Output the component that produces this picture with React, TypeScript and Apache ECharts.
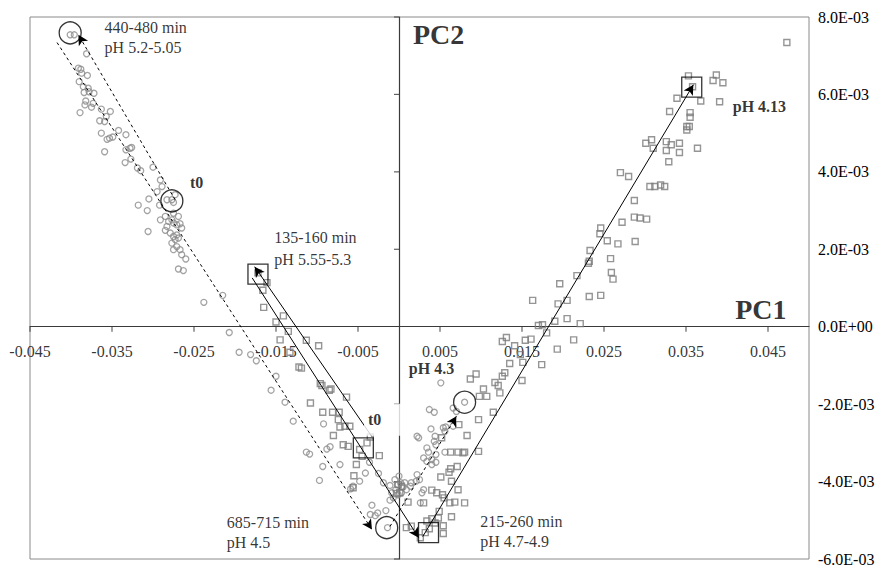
import React, { useEffect, useRef } from "react";
import * as echarts from "echarts";

// ---- axis ticks ----
const xTicks = [-0.045, -0.035, -0.025, -0.015, -0.005, 0.005, 0.015, 0.025, 0.035, 0.045];
const yTicks = [-0.006, -0.004, -0.002, 0.002, 0.004, 0.006, 0.008];
const xMin = -0.045;
const xMax = 0.05;
const yMin = -0.006;
const yMax = 0.008;
const yStep = 0.002;

// ---- series 1 : circles (PC1, PC2 scores) ----
const circlePoints: number[][] = [
  [-40.1e-3, 7.54e-3], [-39.6e-3, 7.54e-3], [-38.1e-3, 7.05e-3], [-39.1e-3, 6.68e-3], [-38.8e-3, 6.65e-3],
  [-38.7e-3, 6.55e-3], [-38.0e-3, 6.49e-3], [-39.0e-3, 6.33e-3], [-38.5e-3, 6.2e-3], [-38.4e-3, 6.05e-3],
  [-37.9e-3, 6.16e-3], [-37.8e-3, 6.07e-3], [-37.2e-3, 6.03e-3], [-38.2e-3, 5.83e-3], [-38.3e-3, 5.73e-3],
  [-37.5e-3, 5.67e-3], [-37.3e-3, 5.77e-3], [-38.9e-3, 5.53e-3], [-36.3e-3, 5.62e-3], [-35.7e-3, 5.43e-3],
  [-35.2e-3, 5.56e-3], [-36.5e-3, 5.32e-3], [-35.9e-3, 5.3e-3], [-36.3e-3, 5.0e-3], [-35.6e-3, 4.84e-3],
  [-35.3e-3, 4.87e-3], [-34.9e-3, 4.9e-3], [-34.2e-3, 5.07e-3], [-33.3e-3, 4.96e-3], [-35.9e-3, 4.52e-3],
  [-33.3e-3, 4.57e-3], [-32.8e-3, 4.61e-3], [-32.6e-3, 4.63e-3], [-33.4e-3, 4.24e-3], [-32.7e-3, 4.33e-3],
  [-31.9e-3, 4.1e-3], [-31.5e-3, 4.03e-3], [-30.0e-3, 4.12e-3], [-29.1e-3, 3.79e-3], [-28.9e-3, 3.62e-3],
  [-29.5e-3, 3.49e-3], [-30.5e-3, 3.3e-3], [-31.8e-3, 3.14e-3], [-30.7e-3, 3.0e-3], [-29.2e-3, 3.14e-3],
  [-28.3e-3, 3.28e-3], [-27.7e-3, 3.28e-3], [-27.5e-3, 3.21e-3], [-27.3e-3, 3.41e-3], [-29.1e-3, 2.76e-3],
  [-28.5e-3, 2.85e-3], [-28.1e-3, 2.72e-3], [-27.7e-3, 2.76e-3], [-27.5e-3, 2.93e-3], [-26.9e-3, 2.85e-3],
  [-28.3e-3, 2.59e-3], [-28.5e-3, 2.49e-3], [-27.5e-3, 2.68e-3], [-27.1e-3, 2.63e-3], [-26.7e-3, 2.66e-3],
  [-26.5e-3, 2.55e-3], [-27.9e-3, 2.42e-3], [-27.5e-3, 2.33e-3], [-27.1e-3, 2.37e-3], [-26.9e-3, 2.29e-3],
  [-27.3e-3, 2.25e-3], [-27.7e-3, 2.16e-3], [-27.1e-3, 2.07e-3], [-26.7e-3, 1.99e-3], [-27.5e-3, 1.99e-3],
  [-26.5e-3, 1.86e-3], [-26.0e-3, 1.75e-3], [-26.9e-3, 1.49e-3], [-26.3e-3, 1.45e-3], [-30.6e-3, 2.46e-3],
  [-21.5e-3, 0.81e-3], [-23.8e-3, 0.63e-3], [-20.7e-3, -0.15e-3], [-19.5e-3, -0.66e-3], [-18.1e-3, -0.72e-3],
  [-17.4e-3, -0.88e-3], [-15.0e-3, -1.28e-3], [-15.6e-3, -1.64e-3], [-13.9e-3, -1.95e-3], [-12.9e-3, -2.44e-3],
  [-11.3e-3, -3.24e-3], [-10.9e-3, -3.29e-3], [-9.3e-3, -3.61e-3], [-9.7e-3, -3.97e-3], [-9.2e-3, -2.51e-3],
  [-8.8e-3, -3.16e-3], [-8.4e-3, -3.1e-3], [-7.2e-3, -3.56e-3], [-5.6e-3, -4.12e-3], [-5.9e-3, -4.19e-3],
  [-4.8e-3, -3.99e-3], [-4.1e-3, -3.78e-3], [-3.6e-3, -3.5e-3], [-2.5e-3, -3.79e-3], [-1.9e-3, -4.03e-3],
  [-1.1e-3, -4.1e-3], [-0.9e-3, -4.29e-3], [-1.6e-3, -4.75e-3], [-3.3e-3, -4.61e-3], [-3.5e-3, -4.85e-3],
  [-2.9e-3, -4.88e-3], [-2.6e-3, -4.81e-3], [-1.4e-3, -5.19e-3], [0.0, -3.86e-3], [-0.5e-3, -3.95e-3],
  [-0.2e-3, -4.08e-3], [0.2e-3, -4.03e-3], [0.5e-3, -4.14e-3], [0.7e-3, -4.03e-3], [0.3e-3, -4.29e-3],
  [-0.1e-3, -4.34e-3], [-0.7e-3, -4.42e-3], [-1.1e-3, -4.48e-3], [-0.4e-3, -4.21e-3], [0.9e-3, -4.21e-3],
  [1.4e-3, -4.12e-3], [1.5e-3, -4.03e-3], [2.2e-3, -3.82e-3], [2.5e-3, -3.95e-3], [2.8e-3, -4.29e-3],
  [3.0e-3, -4.21e-3], [2.2e-3, -2.83e-3], [2.4e-3, -2.87e-3], [3.4e-3, -3.13e-3], [3.6e-3, -3.24e-3],
  [3.0e-3, -3.39e-3], [3.4e-3, -3.48e-3], [4.0e-3, -3.56e-3], [3.7e-3, -2.14e-3], [4.3e-3, -2.21e-3],
  [3.9e-3, -2.64e-3], [4.4e-3, -2.83e-3], [4.3e-3, -2.96e-3], [4.5e-3, -3.05e-3], [5.4e-3, -2.61e-3],
  [5.7e-3, -2.59e-3], [5.6e-3, -2.7e-3], [6.6e-3, -2.1e-3], [7.0e-3, -2.19e-3], [5.1e-3, -1.45e-3],
  [8.0e-3, -1.95e-3], [4.0e-3, -3.43e-3], [4.5e-3, -3.5e-3], [4.5e-3, -3.3e-3], [5.6e-3, -3.24e-3],
  [6.6e-3, -2.57e-3], [2.1e-3, -3.99e-3], [2.6e-3, -4.55e-3],
];

// ---- series 2 : squares ----
const squarePoints: number[][] = [
  [35.3e-3, 6.48e-3], [35.8e-3, 6.2e-3], [33.9e-3, 5.9e-3], [36.8e-3, 5.83e-3], [38.3e-3, 6.36e-3],
  [38.7e-3, 6.5e-3], [39.5e-3, 6.3e-3], [39.1e-3, 5.81e-3], [33.0e-3, 5.56e-3], [35.5e-3, 5.53e-3],
  [35.5e-3, 5.41e-3], [35.1e-3, 5.17e-3], [35.4e-3, 5.17e-3], [35.1e-3, 5.08e-3], [36.4e-3, 4.61e-3],
  [30.1e-3, 4.74e-3], [30.8e-3, 4.83e-3], [31.0e-3, 4.61e-3], [32.6e-3, 4.78e-3], [33.2e-3, 4.7e-3],
  [32.6e-3, 4.55e-3], [34.2e-3, 4.74e-3], [34.2e-3, 4.5e-3], [32.9e-3, 4.26e-3], [27.0e-3, 3.98e-3],
  [28.0e-3, 3.88e-3], [30.6e-3, 3.62e-3], [31.2e-3, 3.62e-3], [31.9e-3, 3.66e-3], [32.4e-3, 3.62e-3],
  [28.7e-3, 3.26e-3], [27.2e-3, 2.7e-3], [28.7e-3, 2.83e-3], [29.4e-3, 2.81e-3], [30.2e-3, 2.78e-3],
  [24.6e-3, 2.55e-3], [24.5e-3, 2.4e-3], [25.4e-3, 2.22e-3], [26.7e-3, 2.14e-3], [28.8e-3, 2.2e-3],
  [23.3e-3, 1.97e-3], [23.2e-3, 1.69e-3], [23.1e-3, 1.64e-3], [25.8e-3, 1.76e-3], [21.7e-3, 1.32e-3],
  [25.9e-3, 1.4e-3], [26.1e-3, 1.23e-3], [19.6e-3, 1.11e-3], [16.3e-3, 0.68e-3], [19.4e-3, 0.59e-3],
  [20.5e-3, 0.68e-3], [23.2e-3, 0.78e-3], [24.6e-3, 0.81e-3], [19.0e-3, 0.14e-3], [20.5e-3, 0.21e-3],
  [22.1e-3, 0.08e-3], [17.0e-3, 0.03e-3], [17.5e-3, 0.05e-3], [18.0e-3, -0.16e-3], [47.3e-3, 7.34e-3],
  [21.3e-3, -0.34e-3], [12.6e-3, -0.38e-3], [13.1e-3, -0.28e-3], [14.1e-3, -0.49e-3], [15.4e-3, -0.35e-3],
  [16.1e-3, -0.32e-3], [14.8e-3, -0.72e-3], [15.1e-3, -0.92e-3], [13.5e-3, -0.95e-3], [17.4e-3, -0.98e-3],
  [19.3e-3, -0.58e-3], [8.7e-3, -1.35e-3], [9.4e-3, -1.22e-3], [12.6e-3, -1.28e-3], [12.9e-3, -1.19e-3],
  [-17.2e-3, 1.39e-3], [-16.1e-3, 1.14e-3], [-16.6e-3, 0.94e-3], [-16.5e-3, 0.5e-3], [-14.1e-3, 0.28e-3],
  [-15.0e-3, 0.12e-3], [-13.5e-3, -0.12e-3], [-14.5e-3, -0.34e-3], [-13.3e-3, -0.66e-3], [-12.2e-3, -1.04e-3],
  [-11.3e-3, -0.35e-3], [-9.8e-3, -0.49e-3], [-11.9e-3, -1.07e-3], [-9.6e-3, -1.47e-3], [-9.4e-3, -1.52e-3],
  [-8.5e-3, -1.64e-3], [-8.3e-3, -1.61e-3], [-6.4e-3, -1.82e-3], [-10.8e-3, -1.97e-3], [-9.3e-3, -2.21e-3],
  [-8.1e-3, -2.21e-3], [-7.3e-3, -2.21e-3], [-7.4e-3, -2.4e-3], [-7.2e-3, -2.59e-3], [-6.6e-3, -2.57e-3],
  [-6.0e-3, -2.57e-3], [-8.0e-3, -2.81e-3], [-6.8e-3, -3.05e-3], [-6.2e-3, -3.09e-3], [-3.9e-3, -3.0e-3],
  [-3.5e-3, -2.85e-3], [-4.5e-3, -3.35e-3], [-4.8e-3, -3.17e-3], [-2.4e-3, -3.33e-3], [-5.2e-3, -3.56e-3],
  [-5.5e-3, -3.85e-3], [-5.6e-3, -4.16e-3], [-0.1e-3, -4.08e-3], [0.3e-3, -4.12e-3], [0.1e-3, -4.29e-3],
  [-0.3e-3, -4.31e-3], [1.1e-3, -4.53e-3], [3.0e-3, -4.55e-3], [4.0e-3, -4.22e-3], [4.6e-3, -4.29e-3],
  [5.3e-3, -4.34e-3], [5.5e-3, -4.42e-3], [6.2e-3, -4.55e-3], [6.8e-3, -4.53e-3], [8.0e-3, -4.55e-3],
  [7.2e-3, -4.21e-3], [5.1e-3, -3.88e-3], [6.1e-3, -3.76e-3], [6.3e-3, -3.67e-3], [7.1e-3, -3.61e-3],
  [6.4e-3, -3.99e-3], [5.2e-3, -2.87e-3], [6.3e-3, -3.24e-3], [7.2e-3, -3.24e-3], [7.8e-3, -3.26e-3],
  [8.0e-3, -3.24e-3], [8.3e-3, -2.81e-3], [9.7e-3, -3.22e-3], [7.3e-3, -2.53e-3], [9.7e-3, -2.4e-3],
  [11.5e-3, -2.21e-3], [9.8e-3, -1.8e-3], [10.7e-3, -1.8e-3], [10.3e-3, -1.61e-3], [11.7e-3, -1.44e-3],
  [12.1e-3, -1.52e-3], [12.3e-3, -1.71e-3], [15.0e-3, -1.39e-3], [0.9e-3, -5.19e-3], [1.5e-3, -5.15e-3],
  [3.2e-3, -5.32e-3], [3.7e-3, -5.22e-3], [3.4e-3, -5.02e-3], [4.0e-3, -4.96e-3], [4.8e-3, -4.94e-3],
  [5.4e-3, -5.14e-3], [5.4e-3, -5.34e-3], [6.4e-3, -4.91e-3], [4.9e-3, -4.77e-3], [4.4e-3, -5.07e-3],
  [2.6e-3, -5.45e-3],
];

// ---- highlighted states (big open markers) ----
const markerCircles: number[][] = [
  [-40.1e-3, 7.59e-3], [-27.7e-3, 3.25e-3], [-1.5e-3, -5.19e-3], [8.0e-3, -1.95e-3],
];
const markerSquares: number[][] = [
  [-17.2e-3, 1.36e-3], [-4.35e-3, -3.13e-3], [3.6e-3, -5.32e-3], [35.7e-3, 6.19e-3],
];

// ---- trajectory arrows ----
const arrowFrom: number[][] = [
  [-41.7e-3, 7.34e-3], [-27.3e-3, 3.28e-3], [-1.1e-3, -5.16e-3],
  [-3.3e-3, -2.84e-3], [-17.9e-3, 1.26e-3], [2.9e-3, -5.42e-3],
];
const arrowTo: number[][] = [
  [-3.3e-3, -5.24e-3], [-39.1e-3, 7.54e-3], [7.0e-3, -2.31e-3],
  [-17.6e-3, 1.55e-3], [2.4e-3, -5.45e-3], [35.9e-3, 6.25e-3],
];
const arrowDashed = [true, true, true, false, false, false];

// ---- annotation texts ----
const noteTexts = [
  "440-480 min", "pH 5.2-5.05", "t0", "135-160 min", "pH 5.55-5.3", "PC2", "PC1",
  "pH 4.13", "pH 4.3", "t0", "685-715 min", "pH 4.5", "215-260 min", "pH 4.7-4.9",
];
const noteAt: number[][] = [
  [-35.9e-3, 7.74e-3], [-35.9e-3, 7.2e-3], [-25.5e-3, 3.72e-3], [-15.2e-3, 2.3e-3], [-15.2e-3, 1.73e-3],
  [1.7e-3, 7.54e-3], [41.0e-3, 0.44e-3], [40.7e-3, 5.68e-3], [1.2e-3, -1.09e-3], [-4.27e-3, -2.4e-3],
  [-21.0e-3, -5.06e-3], [-21.0e-3, -5.57e-3], [9.9e-3, -5.03e-3], [9.9e-3, -5.55e-3],
];
const noteBold = [false, false, true, false, false, true, true, true, true, true, false, false, false, false];
const noteSize = [16, 16, 16, 16, 16, 28, 28, 16, 16, 16, 16, 16, 16, 16];

const FONT = "Liberation Serif, Times New Roman, serif";

function sci(v: number): string {
  if (Math.abs(v) < 1e-12) return "0.0E+00";
  const e = Math.floor(Math.log10(Math.abs(v)) + 1e-9);
  const m = v / Math.pow(10, e);
  return m.toFixed(1) + "E" + (e < 0 ? "-" : "+") + String(Math.abs(e)).padStart(2, "0");
}

export default function App() {
  const ref = useRef<HTMLDivElement>(null);

  useEffect(() => {
    if (!ref.current) return;
    const chart = echarts.init(ref.current, null, { renderer: "svg" });

    const axisColor = "#3a3a3a";

    const arrowLines = arrowFrom.map((f, i) => [
      {
        coord: f,
        symbol: "none",
        lineStyle: {
          color: "#000",
          width: 1,
          type: arrowDashed[i] ? [3, 3] : "solid",
        },
      },
      { coord: arrowTo[i], symbol: "arrow" },
    ]);

    const textData = noteTexts.map((t, i) => {
      const item: any = {
        name: t,
        value: noteAt[i],
        label: {
          fontWeight: noteBold[i] ? "bold" : "normal",
          fontSize: noteSize[i],
          lineHeight: noteSize[i] === 16 ? 14 : 30,
        },
      };
      if (i === 9) {
        item.label.backgroundColor = "#ffffff";
        item.label.padding = [9, 21, 9, 4];
      }
      return item;
    });

    const option: any = {
      animation: false,
      backgroundColor: "#ffffff",
      textStyle: { fontFamily: FONT },
      grid: {
        left: 30,
        right: 71,
        top: 17,
        bottom: 7,
        show: true,
        borderColor: "#8a8a8a",
        borderWidth: 1,
        containLabel: false,
        outerBoundsMode: "none",
      },
      xAxis: {
        type: "value",
        min: xMin,
        max: xMax,
        axisLine: { show: true, onZero: true, lineStyle: { color: axisColor, width: 1.2 } },
        axisTick: { show: false },
        axisLabel: { show: false },
        splitLine: { show: false },
      },
      yAxis: [
        {
          type: "value",
          min: yMin,
          max: yMax,
          interval: yStep,
          position: "left",
          axisLine: { show: true, onZero: true, lineStyle: { color: axisColor, width: 1.2 } },
          axisTick: { show: false },
          axisLabel: { show: false },
          splitLine: { show: false },
        },
        {
          type: "value",
          min: yMin,
          max: yMax,
          interval: yStep,
          position: "right",
          axisLine: { show: false, onZero: false },
          axisTick: { show: false },
          axisLabel: { formatter: sci, fontSize: 16, color: "#000", margin: 9, fontFamily: FONT },
          splitLine: { show: false },
        },
      ],
      series: [
        {
          type: "scatter",
          name: "xTickLabels",
          data: xTicks.map((v) => [v, 0]),
          symbolSize: 0,
          itemStyle: { color: "rgba(0,0,0,0)" },
          silent: true,
          z: 1,
          label: {
            show: true,
            position: "bottom",
            distance: 18,
            lineHeight: 13,
            formatter: (p: any) => p.value[0].toFixed(3),
            color: "#000",
            fontFamily: FONT,
            fontSize: 16,
          },
        },
        {
          type: "scatter",
          name: "xTickMarks",
          data: xTicks.map((v) => [v, 0]),
          symbol: "rect",
          symbolSize: [1.2, 5],
          symbolOffset: [0, 2.5],
          itemStyle: { color: axisColor },
          silent: true,
          z: 1,
        },
        {
          type: "scatter",
          name: "yTickMarks",
          data: yTicks.map((v) => [0, v]),
          symbol: "rect",
          symbolSize: [5, 1.2],
          symbolOffset: [-2.5, 0],
          itemStyle: { color: axisColor },
          silent: true,
          z: 1,
        },
        {
          type: "scatter",
          name: "circles",
          data: circlePoints,
          symbol: "circle",
          symbolSize: 6,
          itemStyle: { color: "rgba(0,0,0,0)", borderColor: "#8c8c8c", borderWidth: 1.3 },
          silent: true,
          z: 2,
        },
        {
          type: "scatter",
          name: "squares",
          data: squarePoints,
          symbol: "rect",
          symbolSize: 6,
          itemStyle: { color: "rgba(0,0,0,0)", borderColor: "#7a7a7a", borderWidth: 1.4 },
          silent: true,
          z: 2,
        },
        {
          type: "scatter",
          name: "markerCircles",
          data: markerCircles,
          symbol: "circle",
          symbolSize: 22,
          itemStyle: { color: "rgba(0,0,0,0)", borderColor: "#000", borderWidth: 1.3 },
          silent: true,
          z: 4,
          markLine: {
            silent: true,
            animation: false,
            symbolSize: [8, 10],
            label: { show: false },
            lineStyle: { color: "#000", width: 1 },
            itemStyle: { color: "#000" },
            data: arrowLines,
          },
        },
        {
          type: "scatter",
          name: "markerSquares",
          data: markerSquares,
          symbol: "rect",
          symbolSize: 20,
          itemStyle: { color: "rgba(0,0,0,0)", borderColor: "#000", borderWidth: 1.3 },
          silent: true,
          z: 4,
        },
        {
          type: "scatter",
          name: "notes",
          data: textData,
          symbolSize: 0,
          itemStyle: { color: "rgba(0,0,0,0)" },
          silent: true,
          z: 6,
          label: {
            show: true,
            position: "right",
            distance: 0,
            formatter: "{b}",
            color: "#000",
            fontFamily: FONT,
            fontSize: 16,
          },
        },
      ],
    };

    chart.setOption(option);
    return () => chart.dispose();
  }, []);

  return (
    <div
      ref={ref}
      style={{ position: "fixed", left: 0, top: 0, width: 880, height: 566, background: "#fff" }}
    />
  );
}
